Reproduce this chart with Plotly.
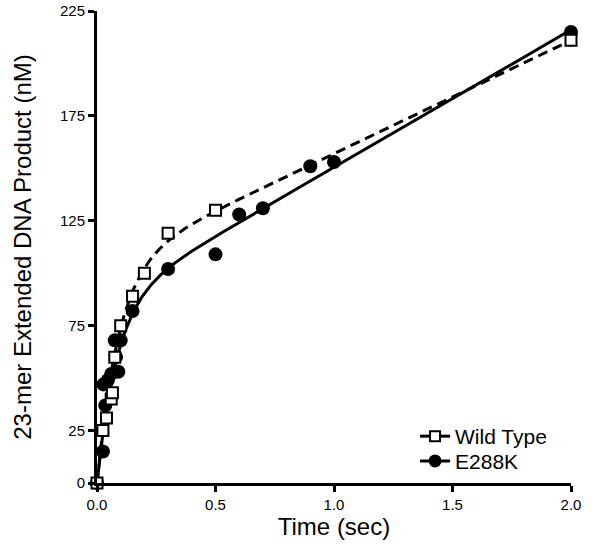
import numpy as np
import plotly.graph_objects as go

# Wild Type data (open squares)
wt_time = [0, 0.025, 0.04, 0.06, 0.065, 0.075, 0.1, 0.15, 0.2, 0.3, 0.5, 2.0]
wt_product = [0, 25, 31, 40, 43, 60, 75, 89, 100, 119, 130, 211]

# E288K data (filled circles)
mut_time = [0, 0.025, 0.027, 0.035, 0.046, 0.06, 0.075, 0.08, 0.09, 0.1, 0.15, 0.3, 0.5, 0.6, 0.7, 0.9, 1.0, 2.0]
mut_product = [0, 15, 47, 37, 49, 52, 68, 60, 53, 68, 82, 102, 109, 128, 131, 151, 153, 215]

# burst-equation fit parameters: A*(1-exp(-k t)) + B*t
wt_fit = {"A": 103, "k": 11, "B": 54}
mut_fit = {"A": 85, "k": 12, "B": 65.5}

x_ticks = [0, 0.5, 1.0, 1.5, 2.0]
y_ticks = [0, 25, 75, 125, 175, 225]

t_fit = np.linspace(0, 2.0, 400)
def burst(p, t):
    return p["A"] * (1 - np.exp(-p["k"] * t)) + p["B"] * t

fig = go.Figure()
fig.add_trace(go.Scatter(x=t_fit, y=burst(wt_fit, t_fit), mode="lines",
                         line=dict(color="black", width=3, dash="10px,6px"),
                         showlegend=False, hoverinfo="skip"))
fig.add_trace(go.Scatter(x=t_fit, y=burst(mut_fit, t_fit), mode="lines",
                         line=dict(color="black", width=3),
                         showlegend=False, hoverinfo="skip"))
fig.add_trace(go.Scatter(x=mut_time, y=mut_product, mode="markers",
                         marker=dict(symbol="circle", size=14, color="black"),
                         showlegend=False, cliponaxis=False))
fig.add_trace(go.Scatter(x=wt_time, y=wt_product, mode="markers",
                         marker=dict(symbol="square", size=11, color="white",
                                     line=dict(color="black", width=2)),
                         showlegend=False, cliponaxis=False))
# legend entries (one legend each, for exact placement)
fig.add_trace(go.Scatter(x=[None], y=[None], mode="lines+markers", name="Wild Type",
                         line=dict(color="black", width=3),
                         marker=dict(symbol="square", size=10, color="white",
                                     line=dict(color="black", width=2)),
                         legend="legend"))
fig.add_trace(go.Scatter(x=[None], y=[None], mode="lines+markers", name="E288K",
                         line=dict(color="black", width=3),
                         marker=dict(symbol="circle", size=13, color="black"),
                         legend="legend2"))

font_family = "Liberation Sans, Arial, sans-serif"
axis_common = dict(showgrid=False, zeroline=False, showline=True, linecolor="black",
                   linewidth=3, ticks="outside", ticklen=6, tickwidth=3, tickcolor="black",
                   tickfont=dict(size=15, family=font_family), automargin=False,
                   ticklabeloverflow="allow")
fig.update_layout(
    width=601, height=547,
    margin=dict(l=97, r=30, t=11, b=64),
    paper_bgcolor="white", plot_bgcolor="white",
    font=dict(family=font_family, color="black"),
    xaxis=dict(range=[0, 2.0], tickvals=x_ticks, tickformat=".1f",
               title=dict(text="Time (sec)", font=dict(size=24), standoff=0),
               **axis_common),
    yaxis=dict(range=[0, 225], tickvals=y_ticks,
               title=dict(text="23-mer Extended DNA Product (nM)", font=dict(size=24), standoff=22),
               **axis_common),
    legend=dict(x=0.671, y=0.0985, xanchor="left", yanchor="middle",
                font=dict(size=21), bgcolor="rgba(0,0,0,0)", itemwidth=30),
    legend2=dict(x=0.671, y=0.046, xanchor="left", yanchor="middle",
                 font=dict(size=21), bgcolor="rgba(0,0,0,0)", itemwidth=30),
)

fig.write_html("out.html", config={"displayModeBar": False},
               post_script="document.body.style.margin='0';")
